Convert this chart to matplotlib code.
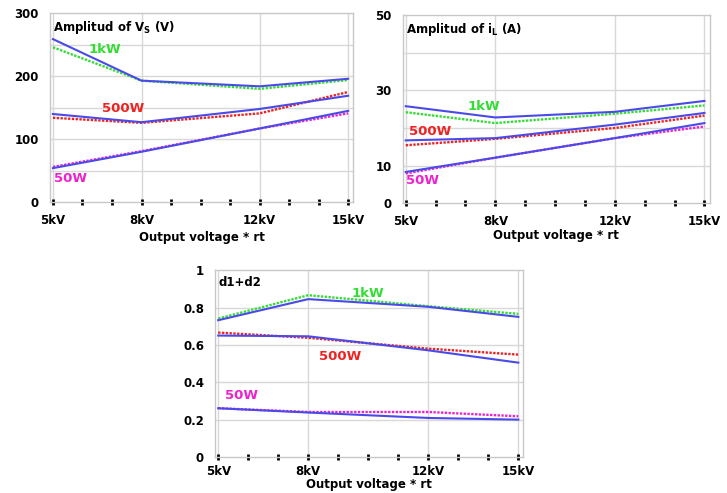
import matplotlib
matplotlib.use("Agg")
import matplotlib.pyplot as plt
import numpy as np

kv = [5, 8, 12, 15]
kv_labels = ["5kV", "8kV", "12kV", "15kV"]

# Chart 1: Amplitud of Vs (V)
vs_1kw_blue = [259, 193, 184, 196]
vs_1kw_dot = [246, 193, 180, 194]
vs_500_blue = [140, 127, 148, 169]
vs_500_dot = [134, 126, 141, 175]
vs_50_blue = [54, 80, 117, 145]
vs_50_dot = [56, 81, 117, 141]

# Chart 2: Amplitud of iL (A)
il_1kw_blue = [25.8, 22.8, 24.3, 27.2]
il_1kw_dot = [24.2, 21.3, 23.8, 26.0]
il_500_blue = [16.7, 17.3, 20.9, 24.0]
il_500_dot = [15.4, 17.1, 20.0, 23.3]
il_50_blue = [8.3, 12.1, 17.3, 21.3]
il_50_dot = [7.9, 12.1, 17.3, 20.4]

# Chart 3: d1+d2
d_1kw_blue = [0.732, 0.845, 0.804, 0.750]
d_1kw_dot = [0.741, 0.866, 0.807, 0.766]
d_500_blue = [0.650, 0.646, 0.571, 0.505]
d_500_dot = [0.666, 0.638, 0.580, 0.548]
d_50_blue = [0.261, 0.238, 0.209, 0.200]
d_50_dot = [0.261, 0.241, 0.241, 0.218]

BLUE = "#4a4ae8"
GREEN = "#33dd33"
RED = "#ee2222"
MAG = "#ee22cc"

fig = plt.figure(figsize=(7.27, 4.93), dpi=100)

def setup(ax, ylim, grid_y, label_y, title, xpad=4, lpad=1):
    ax.set_xlim(4.9, 15.17)
    ax.set_ylim(*ylim)
    for v in kv:
        ax.axvline(v, color="#d8d8d8", lw=1.0, zorder=0)
    for g in grid_y:
        ax.axhline(g, color="#d8d8d8", lw=1.0, zorder=0)
    ax.set_xticks(np.arange(5, 16, 1), minor=True)
    ax.set_xticks(kv)
    ax.set_xticklabels(kv_labels, fontsize=8.5, fontweight="bold")
    ax.tick_params(axis="x", which="both", direction="inout", length=5, width=2,
                   color="black", pad=xpad)
    ax.set_yticks(label_y)
    ax.set_yticklabels([("%g" % v) for v in label_y], fontsize=8.5, fontweight="bold")
    ax.tick_params(axis="y", length=0, pad=8)
    for s in ax.spines.values():
        s.set_color("#c8c8c8")
        s.set_linewidth(1.0)
    ax.set_xlabel("Output voltage * rt", fontsize=8.5, fontweight="bold", labelpad=lpad)
    ax.text(0.01, 0.97, title, transform=ax.transAxes, ha="left", va="top",
            fontsize=8.5, fontweight="bold")

def draw(ax, pairs):
    for blue, dot, c in pairs:
        ax.plot(kv, blue, color=BLUE, lw=1.5, zorder=3)
        ax.plot(kv, dot, color=c, lw=1.7, ls=(0, (1, 0.6)), zorder=2)

ax1 = fig.add_axes([0.0688, 0.590, 0.417, 0.383])
setup(ax1, (0, 300), [50, 100, 150, 200, 250], [0, 100, 200, 300],
      r"Amplitud of V$_\mathbf{S}$ (V)", xpad=6, lpad=3)
draw(ax1, [(vs_1kw_blue, vs_1kw_dot, GREEN), (vs_500_blue, vs_500_dot, RED),
           (vs_50_blue, vs_50_dot, MAG)])
ax1.text(6.76, 243, "1kW", color=GREEN, fontsize=9.5, fontweight="bold", ha="center", va="center")
ax1.text(7.36, 148, "500W", color=RED, fontsize=9.5, fontweight="bold", ha="center", va="center")
ax1.text(5.58, 37, "50W", color=MAG, fontsize=9.5, fontweight="bold", ha="center", va="center")

ax2 = fig.add_axes([0.554, 0.588, 0.422, 0.381])
setup(ax2, (0, 50), [10, 20, 30, 40], [0, 10, 30, 50],
      r"Amplitud of i$_\mathbf{L}$ (A)", xpad=6, lpad=1)
draw(ax2, [(il_1kw_blue, il_1kw_dot, GREEN), (il_500_blue, il_500_dot, RED),
           (il_50_blue, il_50_dot, MAG)])
ax2.text(7.6, 25.6, "1kW", color=GREEN, fontsize=9.5, fontweight="bold", ha="center", va="center")
ax2.text(5.8, 19.1, "500W", color=RED, fontsize=9.5, fontweight="bold", ha="center", va="center")
ax2.text(5.57, 6.0, "50W", color=MAG, fontsize=9.5, fontweight="bold", ha="center", va="center")

ax3 = fig.add_axes([0.296, 0.073, 0.424, 0.379])
setup(ax3, (0, 1), [0.2, 0.4, 0.6, 0.8], [0, 0.2, 0.4, 0.6, 0.8, 1],
      "d1+d2", xpad=3, lpad=0)
draw(ax3, [(d_1kw_blue, d_1kw_dot, GREEN), (d_500_blue, d_500_dot, RED),
           (d_50_blue, d_50_dot, MAG)])
ax3.text(10.0, 0.875, "1kW", color=GREEN, fontsize=9.5, fontweight="bold", ha="center", va="center")
ax3.text(9.07, 0.536, "500W", color=RED, fontsize=9.5, fontweight="bold", ha="center", va="center")
ax3.text(5.78, 0.33, "50W", color=MAG, fontsize=9.5, fontweight="bold", ha="center", va="center")

fig.savefig("out.png", dpi=100)
